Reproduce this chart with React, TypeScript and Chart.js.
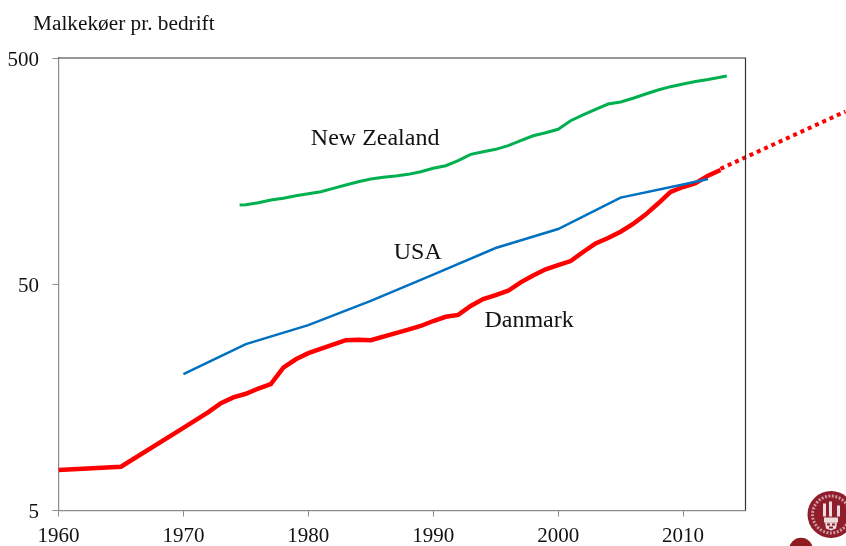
import React, { useEffect, useRef } from "react";
import { Chart, registerables } from "chart.js";

Chart.register(...registerables);

const denmarkYears = [1960, 1965, 1970, 1972, 1973, 1974, 1975, 1976, 1977, 1978, 1979, 1980, 1983, 1984, 1985, 1987, 1988, 1989, 1990, 1991, 1992, 1993, 1994, 1995, 1996, 1997, 1998, 1999, 2000, 2001, 2002, 2003, 2004, 2005, 2006, 2007, 2008, 2009, 2010, 2011, 2012, 2013];
const denmarkValues = [7.55, 7.81, 11.6, 13.6, 14.9, 15.8, 16.4, 17.3, 18.1, 21.4, 23.3, 24.8, 28.3, 28.4, 28.3, 30.4, 31.5, 32.7, 34.4, 35.9, 36.6, 40.1, 43.0, 44.8, 46.8, 51.0, 54.7, 58.2, 60.8, 63.3, 69.4, 75.8, 80, 85.3, 92.3, 101.6, 113.7, 128, 134.5, 140, 151, 160];

const forecastYears = [2013, 2023];
const forecastValues = [162, 290];

const usaYears = [1970, 1975, 1980, 1985, 1990, 1995, 2000, 2005, 2010, 2012];
const usaValues = [20.05, 27.2, 33.0, 42.2, 55.2, 72.3, 87.7, 120.8, 138, 146];

const nzYears = [1974.5, 1975, 1976, 1977, 1978, 1979, 1980, 1981, 1982, 1983, 1984, 1985, 1986, 1987, 1988, 1989, 1990, 1991, 1992, 1993, 1994, 1995, 1996, 1997, 1998, 1999, 2000, 2001, 2002, 2003, 2004, 2005, 2006, 2007, 2008, 2009, 2010, 2011, 2012, 2013.5];
const nzValues = [112, 112.3, 114.6, 117.8, 119.9, 123.1, 125.6, 128.2, 132.7, 137.3, 142, 146, 148.5, 150.5, 153, 157.2, 162.7, 167, 175.8, 187.6, 192.7, 197.4, 204.8, 215.5, 226.6, 233.8, 242, 264, 280, 296.7, 313, 319.4, 332, 346.7, 361, 373.5, 383.7, 393.7, 401.6, 416.3];

const yTicks = [5, 50, 500];
const xTicks = [1960, 1970, 1980, 1990, 2000, 2010];

const labelNames = ["New Zealand", "USA", "Danmark"];
const labelYears = [1980.2, 1986.84, 1994.1];
const labelValues = [206, 64.4, 32.5];

const yAxisCaption = "Malkekøer pr. bedrift";

const SERIF = '"Liberation Serif", "Times New Roman", serif';
const zip = (xs: number[], ys: number[]) => xs.map((x, i) => ({ x, y: ys[i] }));

const decorations = {
  id: "decorations",
  afterDraw(chart: any) {
    const { ctx, chartArea: a, scales } = chart;
    ctx.save();
    // top and right frame
    ctx.strokeStyle = "#333333";
    ctx.lineWidth = 1.2;
    ctx.beginPath();
    ctx.moveTo(a.left, a.top);
    ctx.lineTo(a.right, a.top);
    ctx.lineTo(a.right, a.bottom);
    ctx.stroke();

    // texts
    ctx.fillStyle = "#111111";
    ctx.textBaseline = "alphabetic";
    ctx.textAlign = "left";
    ctx.font = `21.3px ${SERIF}`;
    ctx.fillText(yAxisCaption, 33, 29.5);
    ctx.font = `24px ${SERIF}`;
    labelNames.forEach((name, i) => {
      ctx.fillText(name, scales.x.getPixelForValue(labelYears[i]), scales.y.getPixelForValue(labelValues[i]));
    });

    // seal logo
    const red = "#8f1d2c";
    const cx = 831;
    const cy = 514.5;
    ctx.fillStyle = red;
    ctx.beginPath();
    ctx.arc(cx, cy, 23.5, 0, Math.PI * 2);
    ctx.fill();
    ctx.strokeStyle = "rgba(255,255,255,0.55)";
    ctx.lineWidth = 3;
    ctx.setLineDash([2, 1.5]);
    ctx.beginPath();
    ctx.arc(cx, cy, 18.5, 0, Math.PI * 2);
    ctx.stroke();
    ctx.setLineDash([]);
    ctx.fillStyle = "rgba(255,255,255,0.85)";
    ctx.fillRect(cx - 7, cy + 3, 14, 5);
    ctx.beginPath();
    ctx.moveTo(cx - 6, cy + 8);
    ctx.lineTo(cx + 6, cy + 8);
    ctx.lineTo(cx + 5, cy + 14);
    ctx.lineTo(cx, cy + 16);
    ctx.lineTo(cx - 5, cy + 14);
    ctx.closePath();
    ctx.fill();
    ctx.fillRect(cx - 8, cy - 11, 3, 13);
    ctx.fillRect(cx + 6, cy - 9, 3, 11);
    ctx.fillRect(cx - 2, cy - 13, 3, 15);
    ctx.fillStyle = red;
    ctx.fillRect(cx - 4, cy + 9, 3, 2);
    ctx.fillRect(cx + 1, cy + 9, 3, 2);
    ctx.fillRect(cx - 2, cy + 12, 4, 2);
    ctx.beginPath();
    ctx.fillStyle = "#8f1a20";
    ctx.arc(801, 549.5, 11.8, 0, Math.PI * 2);
    ctx.fill();
    ctx.restore();
  },
};

export default function App() {
  const ref = useRef<HTMLCanvasElement | null>(null);

  useEffect(() => {
    if (!ref.current) return;
    const axisGrey = "#8c8c8c";
    const chart = new Chart(ref.current, {
      type: "line",
      data: {
        datasets: [
          { label: "New Zealand", data: zip(nzYears, nzValues), borderColor: "#00b050", borderWidth: 3, pointRadius: 0, tension: 0 },
          { label: "USA", data: zip(usaYears, usaValues), borderColor: "#0070c0", borderWidth: 2.5, pointRadius: 0, tension: 0 },
          { label: "Danmark", data: zip(denmarkYears, denmarkValues), borderColor: "#ff0000", borderWidth: 4.5, pointRadius: 0, tension: 0 },
          { label: "Danmark (fremskrivning)", data: zip(forecastYears, forecastValues), borderColor: "#ff0000", borderWidth: 4, borderDash: [4, 4], pointRadius: 0, tension: 0, clip: false },
        ],
      } as any,
      plugins: [decorations],
      options: {
        animation: false,
        responsive: false,
        maintainAspectRatio: false,
        layout: { padding: { top: 58, right: 100.5, left: 0, bottom: 0 } },
        plugins: { legend: { display: false }, tooltip: { enabled: false }, title: { display: false } },
        scales: {
          x: {
            type: "linear",
            min: 1960,
            max: 2015,
            grid: { drawOnChartArea: false, drawTicks: true, tickLength: 6, color: axisGrey },
            border: { color: axisGrey, width: 1.2 },
            ticks: {
              stepSize: 10,
              autoSkip: false,
              maxRotation: 0,
              padding: 7,
              color: "#111111",
              font: { family: SERIF, size: 21 },
              callback: (v: any) => String(v),
            },
            afterBuildTicks: (axis: any) => {
              axis.ticks = xTicks.map((value) => ({ value }));
            },
            afterFit: (axis: any) => {
              axis.height = 35.5;
            },
          },
          y: {
            type: "logarithmic",
            min: 5,
            max: 500,
            grid: { drawOnChartArea: false, drawTicks: true, tickLength: 6, color: axisGrey },
            border: { color: axisGrey, width: 1.2 },
            ticks: {
              padding: 13.5,
              labelOffset: 2,
              color: "#111111",
              font: { family: SERIF, size: 21 },
              callback: (v: any) => String(v),
            },
            afterBuildTicks: (axis: any) => {
              axis.ticks = yTicks.map((value) => ({ value }));
            },
            afterFit: (axis: any) => {
              axis.width = 58.5;
            },
          },
        },
      } as any,
    });
    return () => chart.destroy();
  }, []);

  return (
    <div style={{ position: "absolute", left: 0, top: 0, width: 846, height: 546, background: "#ffffff", overflow: "hidden" }}>
      <canvas ref={ref} width={846} height={546} style={{ display: "block" }} />
    </div>
  );
}
